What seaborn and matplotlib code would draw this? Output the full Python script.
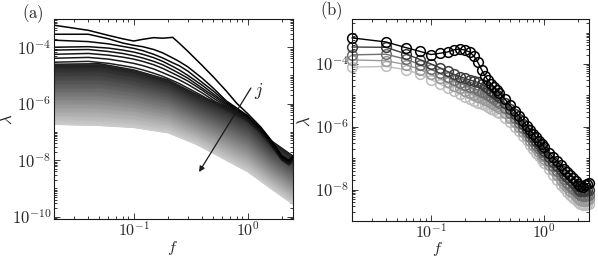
import numpy as np
import matplotlib
matplotlib.use("Agg")
import matplotlib.pyplot as plt
import seaborn as sns
from matplotlib.ticker import LogLocator, NullFormatter

# ---------------- data (log10 of lambda) ----------------
# panel (a): distinct dark curves (small j)
F_DARK = [0.02, 0.04, 0.06, 0.08, 0.1, 0.12, 0.15, 0.18, 0.22, 0.25, 0.3,
          0.4, 0.5, 0.65, 0.8, 1.0, 1.3, 1.6, 2.0, 2.3, 2.5]
DARK_1 = [-3.22, -3.40, -3.58, -3.70, -3.78, -3.72, -3.66, -3.68, -3.65, -3.85, -4.15,
          -4.65, -5.05, -5.55, -5.98, -6.35, -6.82, -7.28, -7.85, -8.00, -7.85]
DARK_2 = [-3.54, -3.54, -3.70, -3.85, -3.93, -3.98, -4.08, -4.20, -4.38, -4.50, -4.70,
          -5.10, -5.45, -5.90, -6.15, -6.42, -6.88, -7.32, -7.88, -8.02, -7.88]
DARK_3 = [-3.75, -3.80, -3.88, -3.97, -4.04, -4.12, -4.25, -4.38, -4.55, -4.65, -4.85,
          -5.25, -5.55, -5.95, -6.20, -6.45, -6.90, -7.35, -7.90, -8.05, -7.90]
DARK_4 = [-4.00, -3.98, -4.03, -4.10, -4.17, -4.25, -4.37, -4.50, -4.68, -4.80, -5.00,
          -5.35, -5.65, -6.00, -6.22, -6.47, -6.92, -7.37, -7.92, -8.07, -7.92]
DARK_5 = [-4.10, -4.08, -4.15, -4.22, -4.30, -4.38, -4.50, -4.62, -4.80, -4.92, -5.10,
          -5.45, -5.72, -6.05, -6.25, -6.50, -6.95, -7.40, -7.94, -8.10, -7.95]
DARK_6 = [-4.25, -4.22, -4.28, -4.35, -4.42, -4.50, -4.62, -4.75, -4.92, -5.03, -5.20,
          -5.52, -5.80, -6.10, -6.30, -6.53, -6.97, -7.42, -7.96, -8.12, -7.97]
DARK_7 = [-4.39, -4.36, -4.42, -4.50, -4.57, -4.65, -4.77, -4.90, -5.05, -5.15, -5.32,
          -5.62, -5.88, -6.15, -6.35, -6.57, -7.00, -7.45, -7.98, -8.14, -8.00]
DARK_8 = [-4.53, -4.50, -4.57, -4.65, -4.72, -4.80, -4.92, -5.03, -5.18, -5.28, -5.45,
          -5.72, -5.96, -6.22, -6.40, -6.62, -7.04, -7.48, -8.00, -8.17, -8.03]

# panel (a): dense band of curves (larger j), top to bottom
F_BAND = [0.02, 0.05, 0.1, 0.2, 0.35, 0.6, 1.0, 1.6, 2.5]
BAND_00 = [-4.60, -4.58, -4.80, -5.15, -5.65, -6.05, -6.45, -7.30, -7.85]
BAND_01 = [-4.74, -4.73, -4.94, -5.28, -5.77, -6.18, -6.58, -7.41, -7.96]
BAND_02 = [-4.88, -4.87, -5.07, -5.40, -5.89, -6.30, -6.71, -7.53, -8.08]
BAND_03 = [-5.02, -5.02, -5.21, -5.52, -6.00, -6.42, -6.84, -7.64, -8.19]
BAND_04 = [-5.17, -5.16, -5.34, -5.65, -6.12, -6.55, -6.97, -7.75, -8.30]
BAND_05 = [-5.31, -5.31, -5.48, -5.77, -6.24, -6.67, -7.10, -7.87, -8.42]
BAND_06 = [-5.45, -5.45, -5.61, -5.90, -6.36, -6.80, -7.23, -7.98, -8.53]
BAND_07 = [-5.59, -5.60, -5.75, -6.02, -6.48, -6.92, -7.36, -8.09, -8.64]
BAND_08 = [-5.73, -5.74, -5.88, -6.15, -6.59, -7.05, -7.49, -8.21, -8.76]
BAND_09 = [-5.87, -5.89, -6.02, -6.27, -6.71, -7.17, -7.62, -8.32, -8.87]
BAND_10 = [-6.01, -6.03, -6.15, -6.40, -6.83, -7.30, -7.75, -8.43, -8.98]
BAND_11 = [-6.16, -6.18, -6.29, -6.52, -6.95, -7.42, -7.88, -8.55, -9.10]
BAND_12 = [-6.30, -6.32, -6.42, -6.65, -7.07, -7.55, -8.01, -8.66, -9.21]
BAND_13 = [-6.44, -6.47, -6.56, -6.77, -7.18, -7.67, -8.14, -8.77, -9.32]
BAND_14 = [-6.58, -6.62, -6.70, -6.90, -7.30, -7.80, -8.27, -8.89, -9.44]
BAND_15 = [-6.72, -6.76, -6.83, -7.02, -7.42, -7.92, -8.40, -9.00, -9.55]

# panel (b): five selected curves
F_B = [0.02, 0.04, 0.06, 0.08, 0.10, 0.12, 0.14, 0.16, 0.18, 0.20,
       0.22, 0.24, 0.26, 0.28, 0.30, 0.32, 0.34, 0.36, 0.38, 0.40,
       0.45, 0.50, 0.55, 0.60, 0.65, 0.70, 0.75, 0.80, 0.85, 0.90, 0.95, 1.00,
       1.1, 1.2, 1.3, 1.4, 1.5, 1.6, 1.7, 1.8, 1.9, 2.0, 2.1, 2.2, 2.3, 2.4, 2.5]
B_1 = [-3.17, -3.30, -3.48, -3.60, -3.70, -3.66, -3.62, -3.55, -3.52, -3.56,
       -3.62, -3.75, -3.95, -4.18, -4.38, -4.52, -4.63, -4.73, -4.83, -4.92,
       -5.12, -5.32, -5.50, -5.66, -5.82, -5.96, -6.10, -6.22, -6.34, -6.45, -6.55, -6.65,
       -6.82, -6.97, -7.10, -7.22, -7.33, -7.43, -7.52, -7.62, -7.72, -7.82, -7.90, -7.92, -7.86, -7.82, -7.80]
B_2 = [-3.46, -3.47, -3.68, -3.86, -4.00, -4.12, -4.24, -4.33, -4.40, -4.46,
       -4.51, -4.55, -4.59, -4.64, -4.70, -4.77, -4.85, -4.92, -4.99, -5.06,
       -5.25, -5.43, -5.60, -5.76, -5.92, -6.06, -6.20, -6.33, -6.45, -6.56, -6.67, -6.77,
       -6.95, -7.11, -7.25, -7.38, -7.50, -7.61, -7.71, -7.80, -7.89, -7.97, -8.03, -8.06, -8.05, -8.02, -8.00]
B_3 = [-3.71, -3.69, -3.85, -4.02, -4.17, -4.30, -4.42, -4.52, -4.60, -4.67,
       -4.73, -4.78, -4.83, -4.88, -4.93, -4.99, -5.05, -5.11, -5.17, -5.23,
       -5.40, -5.57, -5.73, -5.89, -6.04, -6.18, -6.32, -6.45, -6.57, -6.69, -6.80, -6.90,
       -7.09, -7.26, -7.41, -7.55, -7.67, -7.78, -7.88, -7.97, -8.05, -8.12, -8.18, -8.21, -8.20, -8.18, -8.17]
B_4 = [-3.87, -3.90, -4.02, -4.18, -4.33, -4.46, -4.58, -4.69, -4.78, -4.86,
       -4.93, -4.99, -5.04, -5.09, -5.14, -5.19, -5.24, -5.30, -5.35, -5.40,
       -5.55, -5.71, -5.86, -6.01, -6.16, -6.30, -6.44, -6.57, -6.69, -6.81, -6.92, -7.03,
       -7.22, -7.39, -7.55, -7.69, -7.82, -7.93, -8.03, -8.12, -8.20, -8.27, -8.32, -8.35, -8.34, -8.32, -8.31]
B_5 = [-4.10, -4.08, -4.18, -4.33, -4.50, -4.64, -4.76, -4.87, -4.97, -5.05,
       -5.12, -5.18, -5.23, -5.28, -5.32, -5.37, -5.42, -5.47, -5.52, -5.57,
       -5.71, -5.86, -6.00, -6.15, -6.29, -6.43, -6.57, -6.70, -6.82, -6.94, -7.05, -7.16,
       -7.36, -7.54, -7.70, -7.84, -7.96, -8.07, -8.17, -8.26, -8.34, -8.41, -8.46, -8.49, -8.48, -8.46, -8.45]

# ticks and labels
X_TICKS = [0.1, 1.0]
X_TICK_LABELS = [r"$10^{-1}$", r"$10^{0}$"]
YA_TICKS = [1e-10, 1e-8, 1e-6, 1e-4]
YA_TICK_LABELS = [r"$10^{-10}$", r"$10^{-8}$", r"$10^{-6}$", r"$10^{-4}$"]
YB_TICKS = [1e-8, 1e-6, 1e-4]
YB_TICK_LABELS = [r"$10^{-8}$", r"$10^{-6}$", r"$10^{-4}$"]

# ---------------- style ----------------
sns.set_theme(style="ticks")
plt.rcParams["mathtext.fontset"] = "cm"
plt.rcParams["font.family"] = ["DejaVu Serif"]

fig = plt.figure(figsize=(5.98, 2.59), dpi=100)
W, H = 598, 259
axA = fig.add_axes([54 / W, 1 - 219 / H, 239 / W, 200 / H])
axB = fig.add_axes([352 / W, 1 - 221 / H, 237 / W, 202 / H])

# ---------------- panel (a) ----------------
band = [BAND_00, BAND_01, BAND_02, BAND_03, BAND_04, BAND_05, BAND_06, BAND_07,
        BAND_08, BAND_09, BAND_10, BAND_11, BAND_12, BAND_13, BAND_14, BAND_15]
fb = np.array(F_BAND)
grays = np.linspace(0.12, 0.80, len(band))
for k in range(len(band) - 1):
    g = 0.5 * (grays[k] + grays[k + 1])
    axA.fill_between(fb, 10 ** np.array(band[k + 1]), 10 ** np.array(band[k]),
                     color=(g, g, g), lw=0.6)
for k, curve in enumerate(band):
    g = grays[k]
    sns.lineplot(x=fb, y=10 ** np.array(curve), color=(g, g, g), lw=1.0, ax=axA)

dark = [DARK_1, DARK_2, DARK_3, DARK_4, DARK_5, DARK_6, DARK_7, DARK_8]
fd = np.array(F_DARK)
dgray = np.linspace(0.0, 0.12, len(dark))
for k in range(len(dark) - 1, -1, -1):
    g = dgray[k]
    sns.lineplot(x=fd, y=10 ** np.array(dark[k]), color=(g, g, g), lw=1.1, ax=axA)

axA.annotate("", xy=(0.607, 0.235), xytext=(0.824, 0.655), xycoords="axes fraction",
             arrowprops=dict(arrowstyle="-|>", color="k", lw=0.9, mutation_scale=8,
                             shrinkA=0, shrinkB=0))
axA.text(0.856, 0.64, r"$j$", transform=axA.transAxes, fontsize=13,
         ha="center", va="center")

# ---------------- panel (b) ----------------
fbB = np.array(F_B)
b_series = [B_5, B_4, B_3, B_2, B_1]
b_colors = ["#bdbdbd", "#9a9a9a", "#707070", "#3c3c3c", "#000000"]
for vals, c in zip(b_series, b_colors):
    sns.lineplot(x=fbB, y=10 ** np.array(vals), color=c, lw=1.0, marker="o",
                 markersize=7, markerfacecolor="none", markeredgecolor=c,
                 markeredgewidth=1.1, ax=axB, clip_on=False)

# ---------------- axes formatting ----------------
for ax, yt, ytl, ylim in ((axA, YA_TICKS, YA_TICK_LABELS, (8.3e-11, 1e-3)),
                          (axB, YB_TICKS, YB_TICK_LABELS, (1e-9, 2.7e-3))):
    ax.set_xscale("log")
    ax.set_yscale("log")
    ax.set_xlim(0.02, 2.5)
    ax.set_ylim(*ylim)
    ax.set_xticks(X_TICKS, X_TICK_LABELS)
    ax.set_yticks(yt, ytl)
    ax.xaxis.set_minor_locator(LogLocator(base=10, subs=np.arange(1, 10), numticks=60))
    ax.yaxis.set_minor_locator(LogLocator(base=10, subs=np.arange(1, 10), numticks=60))
    ax.xaxis.set_minor_formatter(NullFormatter())
    ax.yaxis.set_minor_formatter(NullFormatter())
    ax.tick_params(which="both", direction="in", top=True, right=True,
                   width=0.6, color="k")
    ax.tick_params(which="major", length=4)
    ax.tick_params(which="minor", length=2)
    ax.tick_params(axis="x", which="major", pad=1.5, labelsize=11.5)
    ax.tick_params(axis="y", which="major", pad=2, labelsize=12)
    for s in ax.spines.values():
        s.set_linewidth(0.8)
        s.set_color("0.1")
    ax.set_xlabel(r"$f$", fontsize=11.5)
    ax.set_ylabel(r"$\lambda$", fontsize=12)

axA.xaxis.set_label_coords(0.494, -0.102)
axA.yaxis.set_label_coords(-0.16, 0.5)
axB.xaxis.set_label_coords(0.36, -0.096)
axB.yaxis.set_label_coords(-0.16, 0.495)

fig.text(32.5 / W, 1 - 13.3 / H, r"$\mathrm{(a)}$", ha="center", va="center", fontsize=12)
fig.text(331.7 / W, 1 - 10.5 / H, r"$\mathrm{(b)}$", ha="center", va="center", fontsize=12)

fig.savefig("out.png", dpi=100)
